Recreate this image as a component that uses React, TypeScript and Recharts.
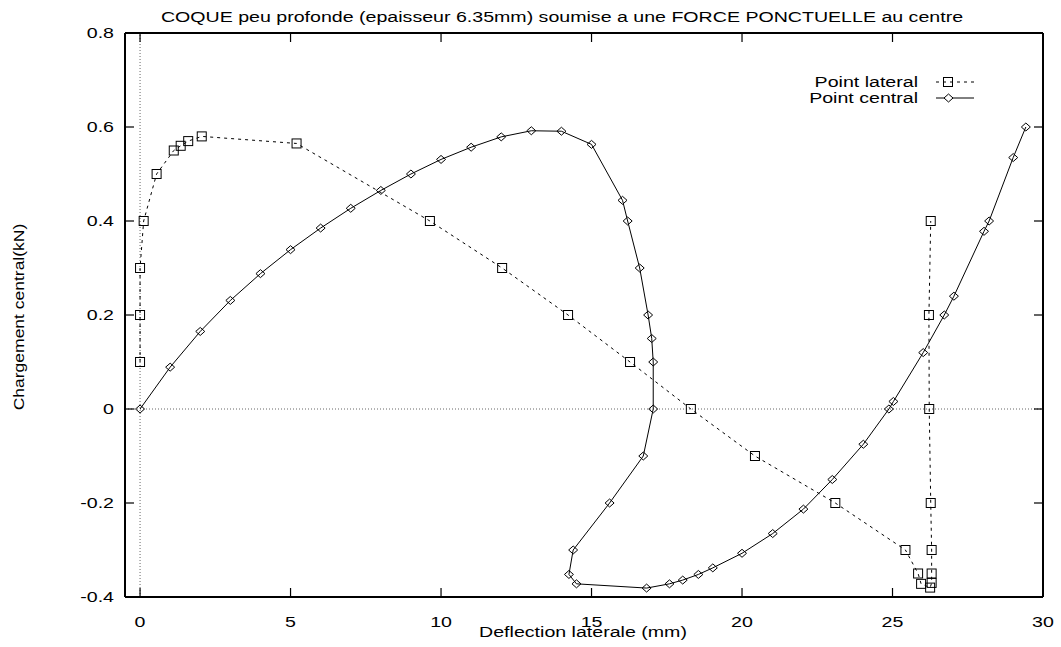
import React from 'react';
import { ScatterChart, Scatter, XAxis, YAxis, ReferenceLine } from 'recharts';

const lateralX = [0, 0, 0, 0.12, 0.55, 1.12, 1.35, 1.6, 2.05, 5.2, 9.63, 12.03, 14.22, 16.28, 18.3, 20.43, 23.1, 25.43, 25.85, 25.95, 26.25, 26.3, 26.3, 26.3, 26.27, 26.22, 26.21, 26.27];
const lateralY = [0.1, 0.2, 0.3, 0.4, 0.5, 0.55, 0.56, 0.57, 0.58, 0.565, 0.4, 0.3, 0.2, 0.1, 0, -0.1, -0.2, -0.3, -0.35, -0.372, -0.38, -0.37, -0.35, -0.3, -0.2, 0, 0.2, 0.4];

const centralX = [0, 1.0, 2.0, 3.0, 4.0, 5.0, 6.0, 7.0, 8.0, 9.0, 10.0, 11.0, 12.0, 13.0, 14.0, 15.0, 16.03, 16.2, 16.6, 16.88, 17.0, 17.05, 17.05, 16.72, 15.6, 14.39, 14.25, 14.5, 16.83, 17.59, 18.03, 18.55, 19.03, 20.0, 21.02, 22.04, 23.0, 24.03, 24.88, 25.03, 26.02, 26.72, 27.04, 28.04, 28.21, 29.01, 29.43];
const centralY = [0, 0.089, 0.165, 0.231, 0.288, 0.339, 0.385, 0.427, 0.465, 0.5, 0.531, 0.557, 0.579, 0.592, 0.591, 0.563, 0.444, 0.4, 0.3, 0.2, 0.15, 0.1, 0, -0.1, -0.2, -0.3, -0.352, -0.372, -0.381, -0.372, -0.364, -0.352, -0.338, -0.307, -0.265, -0.213, -0.15, -0.075, 0, 0.016, 0.12, 0.2, 0.24, 0.378, 0.4, 0.535, 0.6];

const xTicks = [0, 5, 10, 15, 20, 25, 30];
const yTicks = [-0.4, -0.2, 0, 0.2, 0.4, 0.6, 0.8];
const xDomain = [-0.5, 30];
const yDomain = [-0.4, 0.8];

const seriesNames = ['Point lateral', 'Point central'];
const titleText = 'COQUE peu profonde (epaisseur 6.35mm) soumise a une FORCE PONCTUELLE au centre';
const xLabel = 'Deflection laterale (mm)';
const yLabel = 'Chargement central(kN)';

const lateralData = lateralX.map((x, i) => ({ x, y: lateralY[i] }));
const centralData = centralX.map((x, i) => ({ x, y: centralY[i] }));

const W = 1061;
const H = 647;
const PL = 125;
const PR = 1043;
const PT = 33;
const PB = 597;
const TICK = 9;
const FONT = "'Liberation Sans', Arial, sans-serif";
const FS = 14;
const SX = 1.4;
const INK = '#000000';

const SText = (props: any) => {
  const { x, y, anchor = 'start', sx = SX, rotate = 0, children } = props;
  return (
    <text
      x={0}
      y={0}
      textAnchor={anchor}
      fontFamily={FONT}
      fontSize={FS}
      fill={INK}
      transform={`translate(${x},${y}) rotate(${rotate}) scale(${sx},1)`}
    >
      {children}
    </text>
  );
};

const Square = (props: any) => {
  const { cx, cy } = props;
  if (cx == null || cy == null) return null;
  return <rect x={cx - 4.5} y={cy - 4.5} width={9} height={9} fill="none" stroke={INK} strokeWidth={1} />;
};

const Diamond = (props: any) => {
  const { cx, cy } = props;
  if (cx == null || cy == null) return null;
  return (
    <path
      d={`M${cx - 4.5},${cy} L${cx},${cy - 4} L${cx + 4.5},${cy} L${cx},${cy + 4} Z`}
      fill="none"
      stroke={INK}
      strokeWidth={1}
    />
  );
};

const fmt = (v: number) => String(Number(v.toFixed(2)));

const YTick = (props: any) => {
  const { x, y, payload } = props;
  return (
    <g>
      <rect x={PL} y={y - 0.6} width={TICK} height={1.2} fill={INK} />
      <rect x={PR - TICK} y={y - 0.6} width={TICK} height={1.2} fill={INK} />
      <SText x={x} y={y + 5} anchor="end">{fmt(payload.value)}</SText>
    </g>
  );
};

const XTick = (props: any) => {
  const { x, y, payload } = props;
  return (
    <g>
      <rect x={x - 0.6} y={PB - TICK} width={1.2} height={TICK} fill={INK} />
      <rect x={x - 0.6} y={PT} width={1.2} height={TICK} fill={INK} />
      <SText x={x} y={y + 22} anchor="middle">{fmt(payload.value)}</SText>
    </g>
  );
};

const LegendBox = () => (
  <svg width={230} height={40} style={{ position: 'absolute', left: 760, top: 70, display: 'block' }}>
    <SText x={158} y={17} anchor="end">{seriesNames[0]}</SText>
    <path d="M176,12H214" stroke={INK} strokeWidth={1} strokeDasharray="3 4" fill="none" />
    <rect x={183.5} y={7.5} width={9} height={9} fill="none" stroke={INK} strokeWidth={1} />
    <SText x={158} y={33} anchor="end">{seriesNames[1]}</SText>
    <path d="M176,28H214" stroke={INK} strokeWidth={1} fill="none" />
    <path d="M184,28 L188.5,24 L193,28 L188.5,32 Z" fill="#fff" stroke={INK} strokeWidth={1} />
  </svg>
);

export default function App() {
  return (
    <div style={{ position: 'absolute', left: 0, top: 0, width: W, height: H, background: '#fff' }}>
      <ScatterChart width={W} height={H} margin={{ top: PT, right: W - PR, bottom: 0, left: 0 }}>
        <XAxis
          type="number"
          dataKey="x"
          domain={xDomain}
          ticks={xTicks}
          axisLine={{ stroke: INK, strokeWidth: 2 }}
          tickLine={false}
          height={H - PB}
          tick={<XTick />}
          interval={0}
        />
        <YAxis
          type="number"
          dataKey="y"
          domain={yDomain}
          ticks={yTicks}
          axisLine={{ stroke: INK, strokeWidth: 2 }}
          tickLine={false}
          tickMargin={5}
          width={PL}
          tick={<YTick />}
          interval={0}
        />
        <ReferenceLine x={0} stroke="#666" strokeWidth={1} strokeDasharray="1 2" />
        <ReferenceLine y={0} stroke="#666" strokeWidth={1} strokeDasharray="1 2" />
        <ReferenceLine x={xDomain[1]} stroke={INK} strokeWidth={2} />
        <ReferenceLine y={yDomain[1]} stroke={INK} strokeWidth={2} />
        <Scatter
          name={seriesNames[0]}
          data={lateralData}
          line={{ stroke: INK, strokeWidth: 1, strokeDasharray: '3 4' }}
          lineType="joint"
          shape={<Square />}
          isAnimationActive={false}
        />
        <Scatter
          name={seriesNames[1]}
          data={centralData}
          line={{ stroke: INK, strokeWidth: 1 }}
          lineType="joint"
          shape={<Diamond />}
          isAnimationActive={false}
        />
        <SText x={562} y={22} anchor="middle">{titleText}</SText>
        <SText x={583} y={637} anchor="middle">{xLabel}</SText>
        <SText x={24} y={317} anchor="middle" rotate={-90} sx={1.25}>{yLabel}</SText>
      </ScatterChart>
      <LegendBox />
    </div>
  );
}
